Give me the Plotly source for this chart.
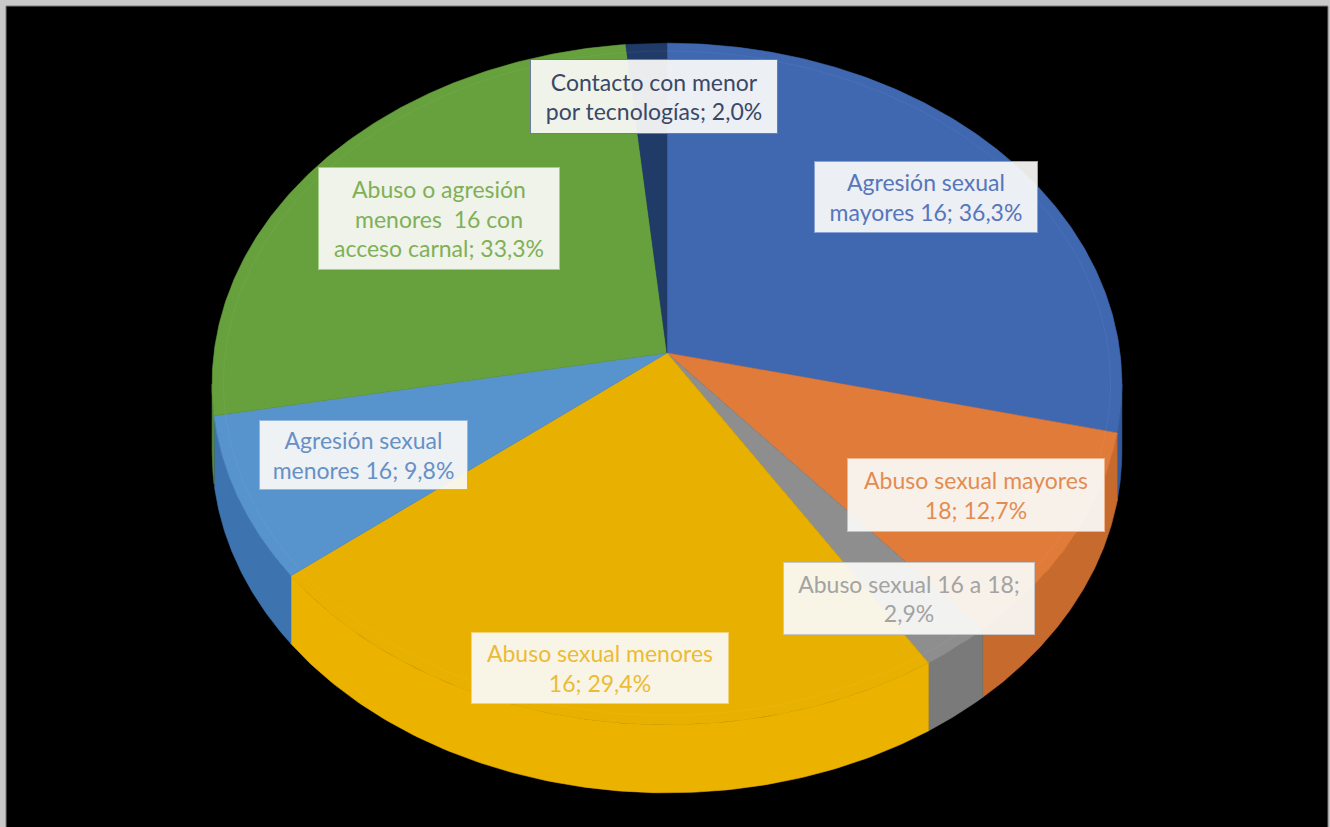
import numpy as np
import plotly.graph_objects as go

# Delitos contra la libertad sexual: distribución por tipo
categories = [
    "Agresión sexual mayores 16",
    "Abuso sexual mayores 18",
    "Abuso sexual 16 a 18",
    "Abuso sexual menores 16",
    "Agresión sexual menores 16",
    "Abuso o agresión menores 16 con acceso carnal",
    "Contacto con menor por tecnologías",
]
values = [36.3, 12.7, 2.9, 29.4, 9.8, 33.3, 2.0]

# Label text, wrapped the way the data labels are set
label_templates = [
    "Agresión sexual<br>mayores 16; {pct}",
    "Abuso sexual mayores<br>18; {pct}",
    "Abuso sexual 16 a 18;<br>{pct}",
    "Abuso sexual menores<br>16; {pct}",
    "Agresión sexual<br>menores 16; {pct}",
    "Abuso o agresión<br>menores  16 con<br>acceso carnal; {pct}",
    "Contacto con menor<br>por tecnologías; {pct}",
]

top_colors = ["#3f68b1", "#e07b3a", "#8e8e8e", "#e8b000", "#5793cc", "#66a13d", "#213b69"]
side_colors = ["#355a9c", "#c76a2e", "#7a7a7a", "#ebb300", "#3d74b0", "#55893a", "#1a2f55"]
text_colors = ["#5676bd", "#e38c52", "#a3a3a3", "#ecbb36", "#6790c6", "#7fb057", "#3a4868"]
box_borders = ["#8aa2d6", "#eeb48c", "#c6c6c6", "#f1d27a", "#94b6de", "#a9cc8c", "#6f7d9c"]

# Label box placement (centre x, centre y, box width, box height) in page pixels
label_boxes = [
    (926, 197, 224, 72),
    (976, 495, 258, 74),
    (909, 598, 252, 73),
    (600, 668, 258, 72),
    (363, 455, 209, 70),
    (439, 218, 242, 103),
    (654, 96, 248, 75),
]

# Perspective ellipse for the tilted pie
CX, CY = 667.0, 353.0      # apex of the pie
A, B = 453.0, 338.0        # horizontal / vertical scale
E = 0.0909                 # perspective factor (far side smaller)
DEPTH = 68.0               # thickness of the pie wall


def rim(theta):
    u, v = np.sin(theta), np.cos(theta)
    w = 1.0 + E * v
    return CX + A * u / w, CY - B * v / w


total = float(sum(values))
fractions = [v / total for v in values]
bounds = np.concatenate([[0.0], np.cumsum(fractions)]) * 2 * np.pi

fig = go.Figure()

# Front wall (visible between the left and right silhouette points)
vis_lo = np.arccos(-E)
vis_hi = 2 * np.pi - vis_lo
for i in range(len(values)):
    a0, a1 = max(bounds[i], vis_lo), min(bounds[i + 1], vis_hi)
    if a1 <= a0:
        continue
    t = np.linspace(a0, a1, 120)
    xs, ys = rim(t)
    px = np.concatenate([xs, xs[::-1], xs[:1]])
    py = np.concatenate([ys, ys[::-1] + DEPTH, ys[:1]])
    fig.add_trace(go.Scatter(
        x=px, y=py, mode="lines", fill="toself",
        fillcolor=side_colors[i], line=dict(color=side_colors[i], width=0.6),
        hoverinfo="skip", showlegend=False,
    ))

# Top faces of the slices
for i in range(len(values)):
    t = np.linspace(bounds[i], bounds[i + 1], 200)
    xs, ys = rim(t)
    px = np.concatenate([[CX], xs, [CX]])
    py = np.concatenate([[CY], ys, [CY]])
    fig.add_trace(go.Scatter(
        x=px, y=py, mode="lines", fill="toself",
        fillcolor=top_colors[i], line=dict(color=top_colors[i], width=0.6),
        name=categories[i], hoverinfo="name", showlegend=False,
    ))

# Faint bevel just inside the rim
tb = np.linspace(0, 2 * np.pi, 400)
bx, by = rim(tb)
fig.add_trace(go.Scatter(
    x=CX + (bx - CX) * 0.975, y=CY + (by - CY) * 0.975, mode="lines",
    line=dict(color="rgba(255,255,255,0.05)", width=1),
    hoverinfo="skip", showlegend=False,
))

# Data labels
PAD = 6
for i, v in enumerate(values):
    pct = f"{v:.1f}".replace(".", ",") + "%"
    text = label_templates[i].format(pct=pct)
    bxc, byc, bw, bh = label_boxes[i]
    fig.add_annotation(
        x=bxc, y=byc, xref="x", yref="y", text=text, showarrow=False,
        font=dict(family="Lato", size=23, color=text_colors[i]),
        align="center", bgcolor="rgba(250,250,248,0.93)",
        bordercolor=box_borders[i], borderwidth=1, borderpad=PAD,
        width=bw - 2 * PAD - 2, height=bh - 2 * PAD - 2,
        xanchor="center", yanchor="middle",
    )

# Chart frame: thin dark edge on the left, top and right
frame = dict(color="#7a7a7a", width=1)
fig.add_shape(type="line", xref="paper", yref="paper", x0=0, y0=0, x1=0, y1=1, line=frame)
fig.add_shape(type="line", xref="paper", yref="paper", x0=0, y0=1, x1=1, y1=1, line=frame)
fig.add_shape(type="line", xref="paper", yref="paper", x0=1, y0=0, x1=1, y1=1, line=frame)

fig.update_layout(
    width=1330, height=827,
    margin=dict(l=6, r=2, t=6, b=0),
    paper_bgcolor="#c8c8c8", plot_bgcolor="#000000",
    xaxis=dict(range=[6, 1328], visible=False, fixedrange=True),
    yaxis=dict(range=[827, 6], visible=False, fixedrange=True),
    showlegend=False,
)

fig.write_html("out.html")
